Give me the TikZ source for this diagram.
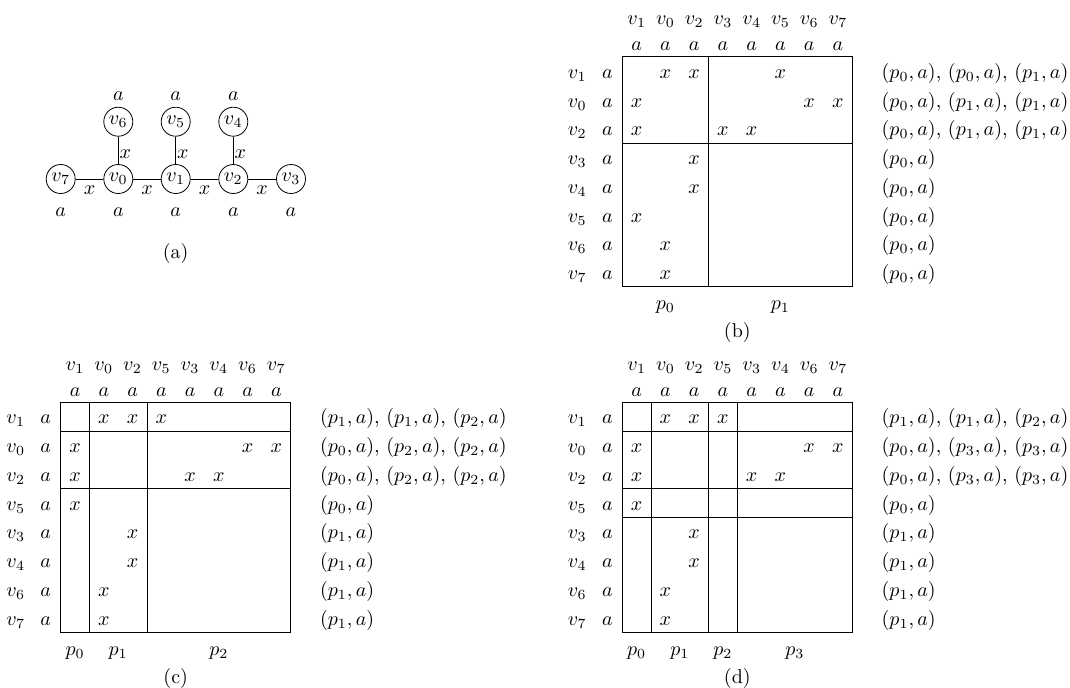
\documentclass[tikz,border=0pt]{standalone}
\def\uu{28.75}
\tikzset{
  vert/.style={circle,draw,minimum size=14.5pt,inner sep=0pt},
  lab/.style={anchor=base,inner sep=0pt},
  elab/.style={inner sep=0pt},
}
\newcommand\mpan[6]{%
  \foreach \lab [count=\i from 0] in {#4} {
    \node[lab] (#1-cv\i) at ({#2+(\i+0.5)*\uu},{#3-32}) {$v_{\lab}$};
    \node[lab] (#1-ca\i) at ({#2+(\i+0.5)*\uu},{#3-6}) {$a$};
    \node[lab] (#1-rv\i) at ({#2-45},{#3+(\i+0.5)*\uu+7.3}) {$v_{\lab}$};
    \node[lab] (#1-ra\i) at ({#2-15},{#3+(\i+0.5)*\uu+7.3}) {$a$};
  }
  \foreach \t [count=\i from 0] in {#5} {
    \node[lab,anchor=base west] (#1-rl\i) at ({#2+8*\uu+29},{#3+(\i+0.5)*\uu+7.3}) {\t};
  }
  \foreach \r/\c in {#6} {
    \node[lab] (#1-x\r\c) at ({#2+(\c+0.5)*\uu},{#3+(\r+0.5)*\uu+7.3}) {$x$};
  }
  \draw (#2,#3) rectangle ({#2+8*\uu},{#3+8*\uu});
}
\newcommand\pq[1]{$(p_{#1},a)$}
\begin{document}
\begin{tikzpicture}[x=0.5pt,y=-0.5pt]
\useasboundingbox (0,0) rectangle (1070,687);

% ---------- (a)
\node[vert] (v7) at (60.7,179) {$v_7$};
\node[vert] (v0) at (118.3,179) {$v_0$};
\node[vert] (v1) at (175.7,179) {$v_1$};
\node[vert] (v2) at (233.3,179) {$v_2$};
\node[vert] (v3) at (291,179) {$v_3$};
\node[vert] (v6) at (118.3,121.7) {$v_6$};
\node[vert] (v5) at (175.7,121.7) {$v_5$};
\node[vert] (v4) at (233.3,121.7) {$v_4$};
\draw (v7) -- node[elab,midway,below=3.3pt] {$x$} (v0);
\draw (v0) -- node[elab,midway,below=3.3pt] {$x$} (v1);
\draw (v1) -- node[elab,midway,below=3.3pt] {$x$} (v2);
\draw (v2) -- node[elab,midway,below=3.3pt] {$x$} (v3);
\draw (v6) -- node[elab,midway,right=0.5pt,yshift=-1.8pt] {$x$} (v0);
\draw (v5) -- node[elab,midway,right=0.5pt,yshift=-1.8pt] {$x$} (v1);
\draw (v4) -- node[elab,midway,right=0.5pt,yshift=-1.8pt] {$x$} (v2);
\node[elab] (la6) at (118.3,95.7) {$a$};
\node[elab] (la5) at (175.7,95.7) {$a$};
\node[elab] (la4) at (233.3,95.7) {$a$};
\node[elab] (la7) at (60.7,211.7) {$a$};
\node[elab] (la0) at (118.3,211.7) {$a$};
\node[elab] (la1) at (175.7,211.7) {$a$};
\node[elab] (la2) at (233.3,211.7) {$a$};
\node[elab] (la3) at (291,211.7) {$a$};
\node[elab] (capa) at (175.7,253.3) {(a)};

% ---------- (b)
\mpan{b}{622.3}{56.7}{1,0,2,3,4,5,6,7}%
 {{\pq0, \pq0, \pq1},{\pq0, \pq1, \pq1},{\pq0, \pq1, \pq1},{\pq0},{\pq0},{\pq0},{\pq0},{\pq0}}%
 {0/1,0/2,0/5,1/0,1/6,1/7,2/0,2/3,2/4,3/2,4/2,5/0,6/1,7/1}
\draw ({622.3+3*\uu},56.7) -- ({622.3+3*\uu},{56.7+8*\uu});
\draw (622.3,{56.7+3*\uu}) -- ({622.3+8*\uu},{56.7+3*\uu});
\node[lab] (b-p0) at ({622.3+1.5*\uu},{56.7+8*\uu+22.7}) {$p_0$};
\node[lab] (b-p1) at ({622.3+5.5*\uu},{56.7+8*\uu+22.7}) {$p_1$};
\node[lab] (capb) at ({622.3+4*\uu},{56.7+8*\uu+51}) {(b)};

% ---------- (c)
\mpan{c}{60.7}{402.3}{1,0,2,5,3,4,6,7}%
 {{\pq1, \pq1, \pq2},{\pq0, \pq2, \pq2},{\pq0, \pq2, \pq2},{\pq0},{\pq1},{\pq1},{\pq1},{\pq1}}%
 {0/1,0/2,0/3,1/0,1/6,1/7,2/0,2/4,2/5,3/0,4/2,5/2,6/1,7/1}
\draw ({60.7+1*\uu},402.3) -- ({60.7+1*\uu},{402.3+8*\uu});
\draw ({60.7+3*\uu},402.3) -- ({60.7+3*\uu},{402.3+8*\uu});
\draw (60.7,{402.3+1*\uu}) -- ({60.7+8*\uu},{402.3+1*\uu});
\draw (60.7,{402.3+3*\uu}) -- ({60.7+8*\uu},{402.3+3*\uu});
\node[lab] (c-p0) at ({60.7+0.5*\uu},{402.3+8*\uu+22.7}) {$p_0$};
\node[lab] (c-p1) at ({60.7+2*\uu},{402.3+8*\uu+22.7}) {$p_1$};
\node[lab] (c-p2) at ({60.7+5.5*\uu},{402.3+8*\uu+22.7}) {$p_2$};
\node[lab] (capc) at ({60.7+4*\uu},{402.3+8*\uu+51}) {(c)};

% ---------- (d)
\mpan{d}{622.3}{402.3}{1,0,2,5,3,4,6,7}%
 {{\pq1, \pq1, \pq2},{\pq0, \pq3, \pq3},{\pq0, \pq3, \pq3},{\pq0},{\pq1},{\pq1},{\pq1},{\pq1}}%
 {0/1,0/2,0/3,1/0,1/6,1/7,2/0,2/4,2/5,3/0,4/2,5/2,6/1,7/1}
\draw ({622.3+1*\uu},402.3) -- ({622.3+1*\uu},{402.3+8*\uu});
\draw ({622.3+3*\uu},402.3) -- ({622.3+3*\uu},{402.3+8*\uu});
\draw ({622.3+4*\uu},402.3) -- ({622.3+4*\uu},{402.3+8*\uu});
\draw (622.3,{402.3+1*\uu}) -- ({622.3+8*\uu},{402.3+1*\uu});
\draw (622.3,{402.3+3*\uu}) -- ({622.3+8*\uu},{402.3+3*\uu});
\draw (622.3,{402.3+4*\uu}) -- ({622.3+8*\uu},{402.3+4*\uu});
\node[lab] (d-p0) at ({622.3+0.5*\uu},{402.3+8*\uu+22.7}) {$p_0$};
\node[lab] (d-p1) at ({622.3+2*\uu},{402.3+8*\uu+22.7}) {$p_1$};
\node[lab] (d-p2) at ({622.3+3.5*\uu},{402.3+8*\uu+22.7}) {$p_2$};
\node[lab] (d-p3) at ({622.3+6*\uu},{402.3+8*\uu+22.7}) {$p_3$};
\node[lab] (capd) at ({622.3+4*\uu},{402.3+8*\uu+51}) {(d)};
\end{tikzpicture}
\end{document}
